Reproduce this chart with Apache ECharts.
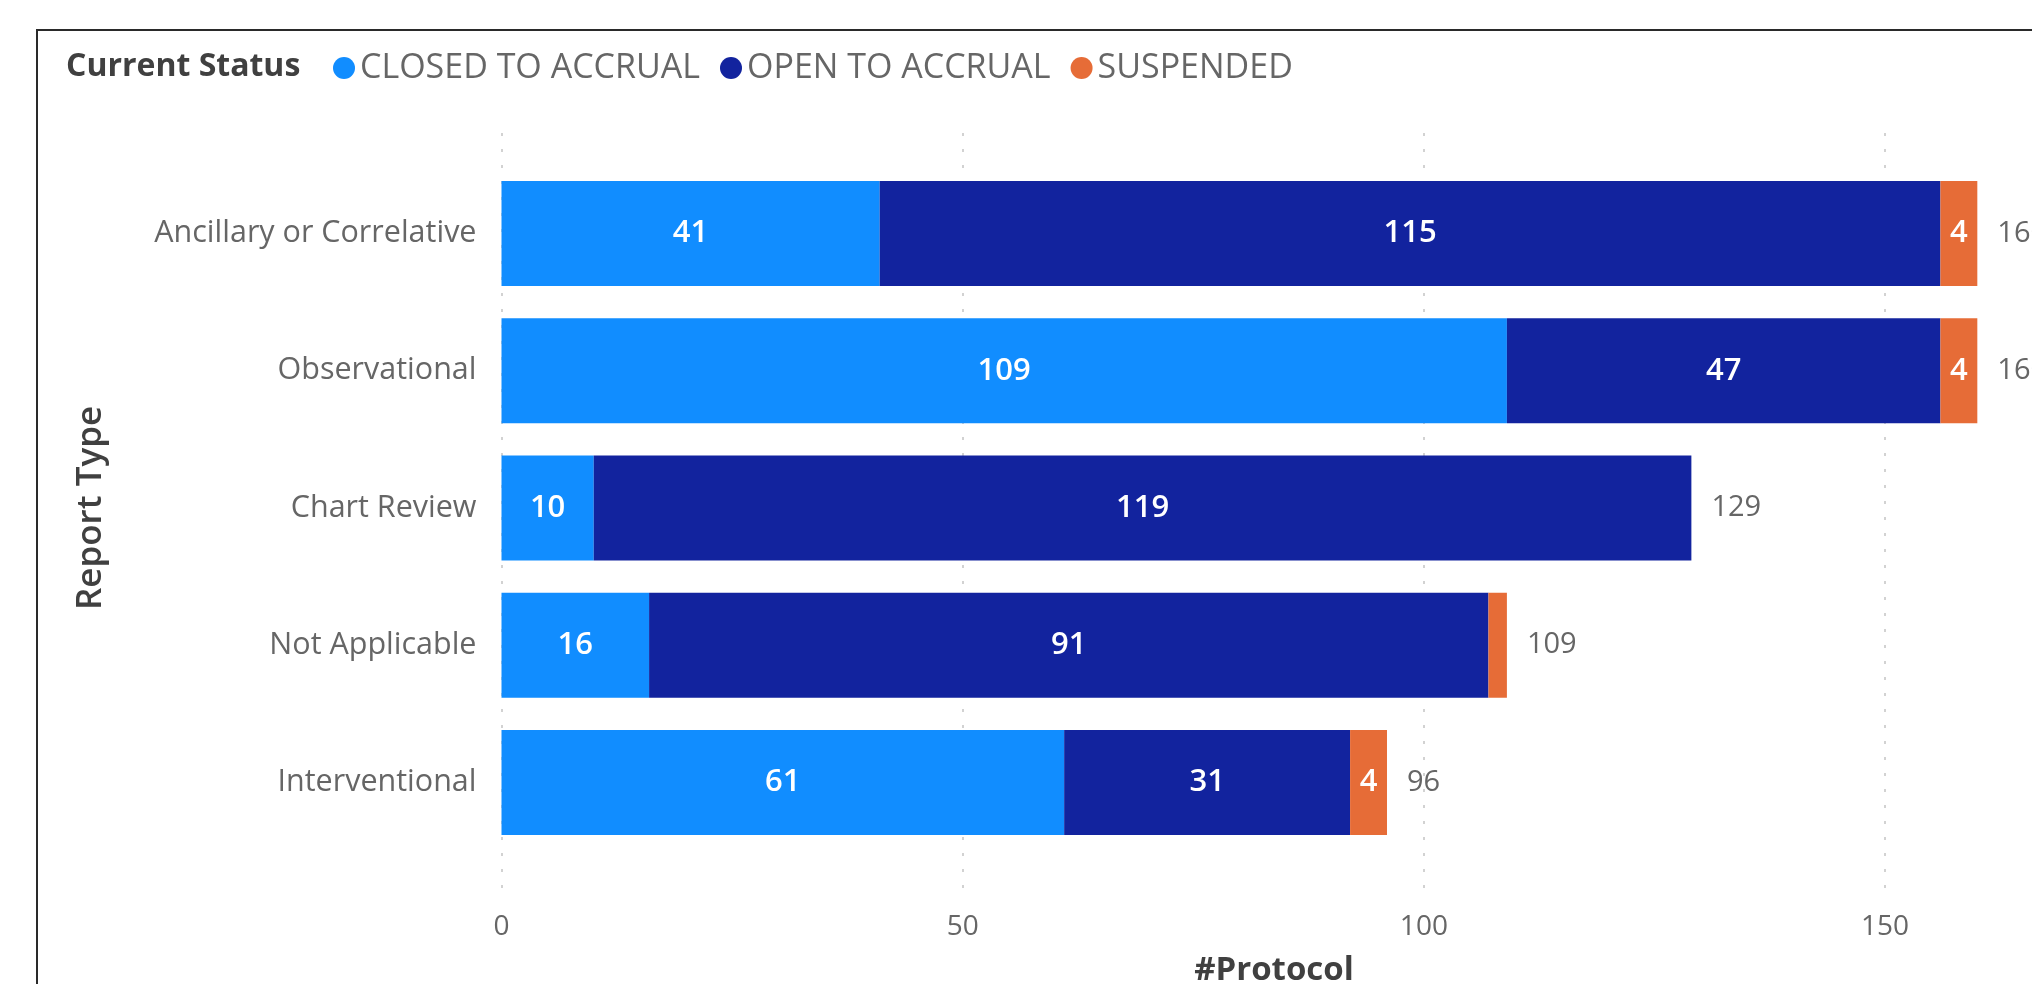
<!DOCTYPE html>
<html>
<head>
<meta charset="utf-8">
<script src="https://cdn.jsdelivr.net/npm/echarts@6/dist/echarts.min.js"></script>
<style>
html,body{margin:0;padding:0;background:#fff;overflow:hidden;}
#chart{width:2032px;height:984px;}
</style>
</head>
<body>
<div id="chart"></div>
<script>
const categories = ['Ancillary or Correlative', 'Observational', 'Chart Review', 'Not Applicable', 'Interventional'];
const closedToAccrual = [41, 109, 10, 16, 61];
const openToAccrual = [115, 47, 119, 91, 31];
const suspended = [4, 4, 0, 2, 4];
const xTicks = [0, 50, 100, 150];

const seriesNames = ['CLOSED TO ACCRUAL', 'OPEN TO ACCRUAL', 'SUSPENDED'];
const colors = ['#118DFF', '#12239E', '#E66C37'];
const totals = categories.map((c, i) => closedToAccrual[i] + openToAccrual[i] + suspended[i]);

const FONT = '"Open Sans", "Noto Sans", sans-serif';
const GL = 501.5, GW = 1545;
const XMAX = 167.5;

const inLabel = {
  show: true, position: 'inside', color: '#fff', fontFamily: FONT,
  fontSize: 31, fontWeight: 600,
  formatter: p => (p.value >= 3 ? String(p.value) : '')
};

const chart = echarts.init(document.getElementById('chart'), null, {renderer: 'canvas'});
chart.setOption({
  animation: false,
  backgroundColor: '#fff',
  title: {
    text: 'Current Status', left: 66, top: 51, padding: 0,
    textStyle: {fontFamily: FONT, fontSize: 32, fontWeight: 700, color: '#404040'}
  },
  legend: {
    data: seriesNames, left: 333, top: 51, padding: 0,
    icon: 'circle', itemWidth: 22, itemHeight: 24, itemGap: 20,
    textStyle: {fontFamily: FONT, fontSize: 34, color: '#666'}
  },
  graphic: [{
    type: 'rect', z: 100, silent: true,
    shape: {x: 37, y: 30, width: 2200, height: 2000},
    style: {fill: 'none', stroke: '#2a2a2a', lineWidth: 2}
  }],
  grid: [
    {left: GL, width: GW, top: 165, height: 686, containLabel: false, outerBoundsMode: 'none'},
    {left: GL, width: GW, top: 133, height: 760, containLabel: false, outerBoundsMode: 'none'}
  ],
  xAxis: [
    {
      gridIndex: 0, type: 'value', min: 0, max: XMAX, interval: 50,
      name: '#Protocol', nameLocation: 'middle', nameGap: 103,
      nameTextStyle: {fontFamily: FONT, fontSize: 33, fontWeight: 700, color: '#404040'},
      axisLine: {show: false}, axisTick: {show: false}, splitLine: {show: false},
      axisLabel: {
        margin: 62, fontFamily: FONT, fontSize: 28, color: '#666', showMaxLabel: false,
        formatter: v => (xTicks.indexOf(v) >= 0 ? String(v) : '')
      }
    },
    {
      gridIndex: 1, type: 'value', min: 0, max: XMAX, interval: 50,
      axisLine: {show: false}, axisTick: {show: false}, axisLabel: {show: false},
      splitLine: {show: true, lineStyle: {color: '#c4c4c4', width: 1.5, type: [3, 13]}}
    }
  ],
  yAxis: [
    {
      gridIndex: 0, type: 'category', data: categories, inverse: true,
      name: 'Report Type', nameLocation: 'middle', nameRotate: 90, nameGap: 393,
      nameTextStyle: {fontFamily: FONT, fontSize: 35, fontWeight: 600, color: '#404040'},
      axisLine: {show: false}, axisTick: {show: false}, splitLine: {show: false},
      axisLabel: {margin: 25, fontFamily: FONT, fontSize: 30.5, color: '#666'}
    },
    {gridIndex: 1, type: 'value', show: false}
  ],
  series: [
    {name: seriesNames[0], type: 'bar', stack: 'total', barWidth: 105, data: closedToAccrual,
     itemStyle: {color: colors[0]}, label: inLabel},
    {name: seriesNames[1], type: 'bar', stack: 'total', barWidth: 105, data: openToAccrual,
     itemStyle: {color: colors[1]}, label: inLabel},
    {name: seriesNames[2], type: 'bar', stack: 'total', barWidth: 105, data: suspended,
     itemStyle: {color: colors[2]}, label: inLabel},
    {name: 'Total', type: 'bar', stack: 'total', barWidth: 105, data: categories.map(() => 0),
     itemStyle: {color: 'rgba(0,0,0,0)'}, silent: true,
     label: {show: true, position: 'right', distance: 20, fontFamily: FONT, fontSize: 29, color: '#666',
             formatter: p => String(totals[p.dataIndex])}}
  ]
});
</script>
</body>
</html>
